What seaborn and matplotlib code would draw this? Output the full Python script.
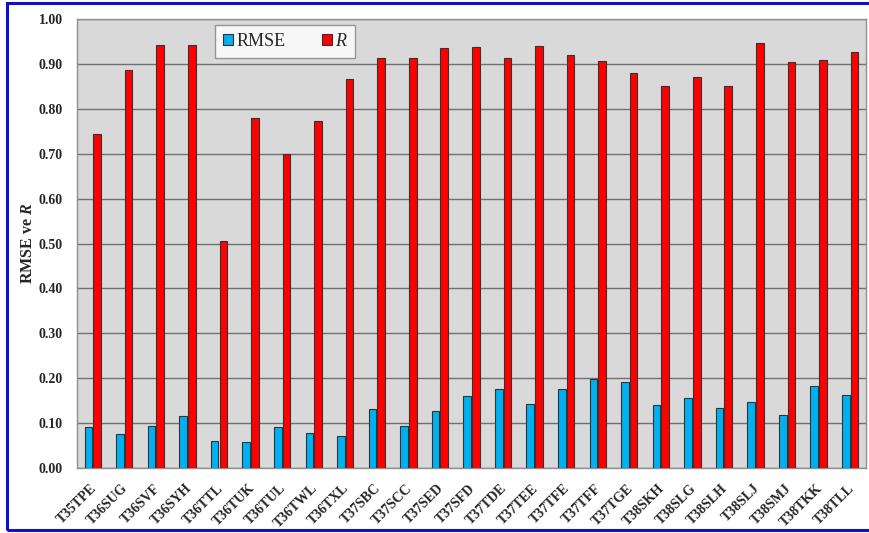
import pandas as pd
import seaborn as sns
import matplotlib.pyplot as plt
from matplotlib.patches import Rectangle
from matplotlib.transforms import ScaledTranslation

# station codes along the x axis
stations = ["T35TPE", "T36SUG", "T36SVF", "T36SYH", "T36TTL", "T36TUK", "T36TUL",
            "T36TWL", "T36TXL", "T37SBC", "T37SCC", "T37SED", "T37SFD", "T37TDE",
            "T37TEE", "T37TFE", "T37TFF", "T37TGE", "T38SKH", "T38SLG", "T38SLH",
            "T38SLJ", "T38SMJ", "T38TKK", "T38TLL"]

# values
rmse = [0.091, 0.075, 0.094, 0.116, 0.059, 0.057, 0.091, 0.077, 0.071, 0.131,
        0.093, 0.128, 0.161, 0.175, 0.143, 0.176, 0.198, 0.191, 0.140, 0.157,
        0.134, 0.146, 0.119, 0.183, 0.163]
r_vals = [0.744, 0.887, 0.942, 0.942, 0.506, 0.779, 0.700, 0.774, 0.867, 0.914,
          0.914, 0.935, 0.938, 0.914, 0.941, 0.921, 0.907, 0.880, 0.851, 0.872,
          0.852, 0.947, 0.905, 0.910, 0.928]

df = pd.DataFrame({"station": stations * 2,
                   "value": rmse + r_vals,
                   "metric": ["RMSE"] * len(stations) + ["R"] * len(stations)})

sns.set_style("white")
plt.rcParams['font.family'] = ['Liberation Serif', 'DejaVu Serif']
plt.rcParams['mathtext.fontset'] = 'custom'
plt.rcParams['mathtext.bfit'] = 'Liberation Serif:italic:bold'
plt.rcParams['mathtext.it'] = 'Liberation Serif:italic'

fig = plt.figure(figsize=(8.69, 5.33), dpi=100)
ax = fig.add_axes([0.0886, 0.122, 0.9079, 0.842])

sns.barplot(data=df, x="station", y="value", hue="metric",
            palette={"RMSE": "#00B0F0", "R": "#FF0000"}, saturation=1,
            width=0.55, gap=0.12, edgecolor="#333333", linewidth=0.8,
            zorder=3, ax=ax)

ax.set_facecolor("#D9D9D9")
ax.set_ylim(0, 1.0)
ax.set_yticks([i / 10 for i in range(11)])
ax.set_yticklabels([f"{i / 10:.2f}" for i in range(11)], fontsize=10, fontweight="bold")
ax.yaxis.grid(True, color="#707070", linewidth=1.0, zorder=0)
ax.set_axisbelow(True)
for s in ax.spines.values():
    s.set_color("#909090")
    s.set_linewidth(1.0)

ax.set_xlim(-0.5, len(stations) - 0.5)
ax.set_xlabel("")
ax.set_ylabel(r"RMSE ve $\mathbfit{R}$", fontsize=11.5, fontweight="bold", labelpad=2)
ax.tick_params(axis="y", length=0, pad=10)
ax.tick_params(axis="x", length=0, pad=10)
shift = ScaledTranslation(-2 / 72, 0, fig.dpi_scale_trans)
for lbl in ax.get_xticklabels():
    lbl.set_rotation(45)
    lbl.set_ha("right")
    lbl.set_rotation_mode("anchor")
    lbl.set_fontsize(10)
    lbl.set_fontweight("bold")
    lbl.set_transform(lbl.get_transform() + shift)

leg = ax.legend(loc="upper left", bbox_to_anchor=(0.175, 0.987), ncol=2,
                fontsize=13, frameon=True, fancybox=False, edgecolor="#808080",
                handlelength=0.55, handleheight=0.55, handletextpad=0.2,
                columnspacing=2.0, borderpad=0.45, borderaxespad=0)
leg.get_frame().set_linewidth(1.0)
leg.get_frame().set_facecolor("white")
leg.get_texts()[1].set_fontstyle("italic")

# blue frame round the figure
fig.patches.append(Rectangle((0.008, 0.006), 1.0, 0.988, transform=fig.transFigure,
                             fill=False, edgecolor="#1010C8", linewidth=2.2))

fig.savefig("out.png", dpi=100)
